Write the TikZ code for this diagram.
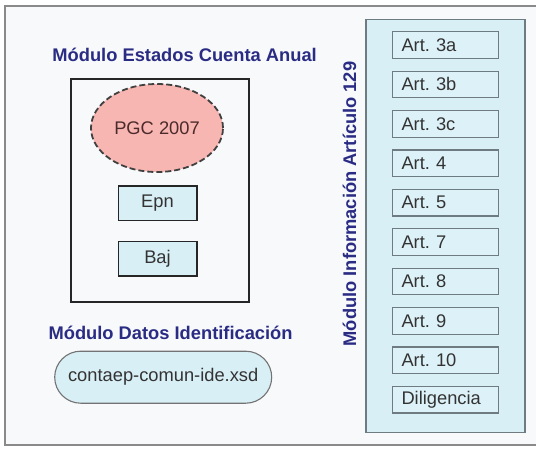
\documentclass[tikz,border=0pt]{standalone}
\usepackage{fontspec}
\setmainfont{Liberation Sans}
\frenchspacing
\usetikzlibrary{shapes.geometric}
\definecolor{bgc}{HTML}{F7F9FB}
\definecolor{framec}{HTML}{8A8A8A}
\definecolor{navy}{HTML}{2A2C84}
\definecolor{cyanfill}{HTML}{D8EFF6}
\definecolor{artfill}{HTML}{DDF2F8}
\definecolor{artline}{HTML}{6E7C82}
\definecolor{pinkfill}{HTML}{F8B6B3}
\definecolor{pgctxt}{HTML}{4A2A2A}
\definecolor{txt}{HTML}{333333}
\tikzset{
  every node/.style={font=\fontsize{18.3}{22}\selectfont, text=txt},
  titlec/.style={font=\fontsize{18.3}{22}\selectfont\bfseries, text=navy, inner sep=0pt},
  artbox/.style={draw=artline, line width=1.2pt, fill=artfill, minimum height=26.6pt,
    text width=88pt, inner xsep=9.2pt, inner ysep=0pt, align=left},
  smallbox/.style={draw=black!85, line width=1.5pt, fill=cyanfill, minimum width=78.5pt,
    minimum height=34.5pt, inner sep=0pt}
}
\begin{document}
\begin{tikzpicture}[x=1pt,y=-1pt]
\useasboundingbox (0,0) rectangle (536,450);
\clip (0,0) rectangle (536,450);
\fill[white] (0,0) rectangle (536,450);
\filldraw[fill=bgc, draw=framec, line width=1.3pt] (5,6) rectangle (560,445);
% left module
\node[titlec] (t1) at (184.6,55) {Módulo Estados Cuenta Anual};
\node[draw=black!85, line width=1.5pt, minimum width=178pt, minimum height=223pt, inner sep=0pt] (mod1) at (160,190.5) {};
\node[ellipse, draw=black!75, dash pattern=on 6pt off 3pt, line width=1.8pt, fill=pinkfill,
  minimum width=132pt, minimum height=88pt, inner sep=0pt, text=pgctxt] (pgc) at (157,128) {PGC 2007};
\node[smallbox] (epn) at (157.5,203) {Epn};
\node[smallbox] (baj) at (157.5,258.5) {Baj};
\node[titlec] (t2) at (170.6,333.3) {Módulo Datos Identificación};
\node[draw=black!55, line width=1.1pt, fill=cyanfill, rounded corners=26pt, minimum width=217pt,
  minimum height=52pt, inner sep=0pt] (ide) at (163.2,377.2) {contaep-comun-ide.xsd};
% right module
\node[titlec, rotate=90] (t3) at (349.5,204) {Módulo Información Artículo 129};
\node[draw=artline, line width=1.3pt, fill=cyanfill, minimum width=159pt, minimum height=413pt, inner sep=0pt] (panel) at (445.5,225.8) {};
\foreach \lab [count=\i from 0] in {Art. 3a, Art. 3b, Art. 3c, Art. 4, Art. 5, Art. 7, Art. 8, Art. 9, Art. 10, Diligencia}{
  \node[artbox] (a\i) at (445.5,{45+39.4*\i}) {\lab};
}
\end{tikzpicture}
\end{document}
